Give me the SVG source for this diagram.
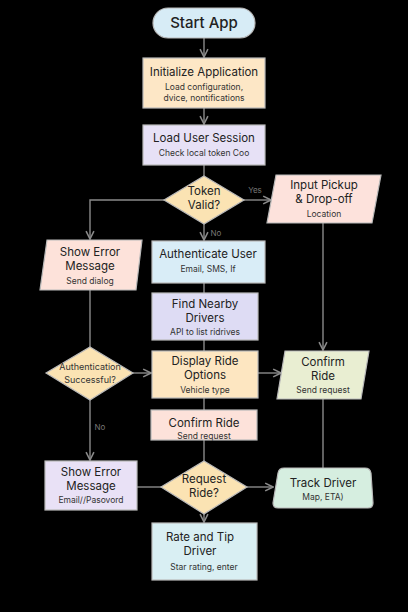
<svg xmlns="http://www.w3.org/2000/svg" width="408" height="612" viewBox="0 0 408 612">
<defs>
<marker id="ah" viewBox="0 0 10 10" refX="9" refY="5" markerWidth="7" markerHeight="7" orient="auto-start-reverse">
<path d="M1,1 L9,5 L1,9" fill="none" stroke="#8a8a8a" stroke-width="1.6"/>
</marker>
<style>
.t{font-family:Inter,"Noto Sans","DejaVu Sans",sans-serif;font-size:11.5px;fill:#222;text-anchor:middle}
.s{font-family:Inter,"Noto Sans","DejaVu Sans",sans-serif;font-size:8.5px;fill:#333;text-anchor:middle}
.l{font-family:Inter,"Noto Sans","DejaVu Sans",sans-serif;font-size:8px;fill:#777;text-anchor:middle}
.n{stroke:#b9b9b9;stroke-width:1.2}
.c{fill:none;stroke:#8a8a8a;stroke-width:1.4}
</style>
</defs>
<rect width="408" height="612" fill="#000"/>
<g id="connectors">
<path class="c" d="M204,38 V57" marker-end="url(#ah)"/>
<path class="c" d="M204,108 V124" marker-end="url(#ah)"/>
<path class="c" d="M204,165 V176"/>
<path class="c" d="M244,200 H271" marker-end="url(#ah)"/>
<path class="c" d="M164,200 H90 V239" marker-end="url(#ah)"/>
<path class="c" d="M204,224 V240" marker-end="url(#ah)"/>
<path class="c" d="M204,283 V293"/>
<path class="c" d="M204,340 V351"/>
<path class="c" d="M90,290 V347"/>
<path class="c" d="M133,373 H151" marker-end="url(#ah)"/>
<path class="c" d="M258,373 H281" marker-end="url(#ah)"/>
<path class="c" d="M323,223 V350" marker-end="url(#ah)"/>
<path class="c" d="M204,398 V410"/>
<path class="c" d="M90,400 V460" marker-end="url(#ah)"/>
<path class="c" d="M204,440 V462"/>
<path class="c" d="M137,487 H162"/>
<path class="c" d="M247,487 H273" marker-end="url(#ah)"/>
<path class="c" d="M323,399 V468"/>
<path class="c" d="M204,514 V522" marker-end="url(#ah)"/>
<text class="l" x="255" y="193">Yes</text>
<text class="l" x="216" y="236">No</text>
<text class="l" x="100" y="430">No</text>
</g>
<g id="start">
<rect class="n" x="153" y="8" width="102" height="30" rx="15" fill="#d7ecf6"/>
<text class="t" x="204" y="28" style="font-size:15px;font-weight:500">Start App</text>
</g>
<g id="init">
<rect class="n" x="143" y="58" width="122" height="50" fill="#fde7c6"/>
<text class="t" x="204" y="76">Initialize Application</text>
<text class="s" x="204" y="90">Load configuration,</text>
<text class="s" x="204" y="101">dvice, nontifications</text>
</g>
<g id="session">
<rect class="n" x="143" y="125" width="122" height="40" fill="#e7e1f6"/>
<text class="t" x="204" y="142">Load User Session</text>
<text class="s" x="204" y="156">Check local token Coo</text>
</g>
<g id="token">
<polygon class="n" points="204,176 244,200 204,224 164,200" fill="#fbe3b3"/>
<text class="t" x="204" y="195">Token</text>
<text class="t" x="204" y="209">Valid?</text>
</g>
<g id="pickup">
<polygon class="n" points="276,175 381,175 372,223 267,223" fill="#fde2dc"/>
<text class="t" x="324" y="189">Input Pickup</text>
<text class="t" x="324" y="203">&amp; Drop-off</text>
<text class="s" x="324" y="217">Location</text>
</g>
<g id="error1">
<polygon class="n" points="47,240 142,240 136,290 40,290" fill="#fde2da"/>
<text class="t" x="90" y="256">Show Error</text>
<text class="t" x="90" y="270">Message</text>
<text class="s" x="90" y="284">Send dialog</text>
</g>
<g id="auth">
<rect class="n" x="152" y="241" width="113" height="42" fill="#d9edf7"/>
<text class="t" x="208" y="258">Authenticate User</text>
<text class="s" x="208" y="272">Email, SMS, If</text>
</g>
<g id="find">
<rect class="n" x="152" y="293" width="106" height="47" fill="#dedcf4"/>
<text class="t" x="205" y="308">Find Nearby</text>
<text class="t" x="205" y="322">Drivers</text>
<text class="s" x="205" y="335">API to list ridrives</text>
</g>
<g id="display">
<rect class="n" x="152" y="351" width="106" height="47" fill="#fde6c1"/>
<text class="t" x="205" y="365">Display Ride</text>
<text class="t" x="205" y="379">Options</text>
<text class="s" x="205" y="393">Vehicle type</text>
</g>
<g id="authok">
<polygon class="n" points="90,347 133,373 90,400 46,373" fill="#fbe3b3"/>
<text class="s" x="90" y="370" style="font-size:9px">Authentication</text>
<text class="s" x="90" y="383" style="font-size:9px">Successful?</text>
</g>
<g id="confirm2">
<polygon class="n" points="285,351 369,351 361,399 277,399" fill="#e9eed2"/>
<text class="t" x="323" y="366">Confirm</text>
<text class="t" x="323" y="380">Ride</text>
<text class="s" x="323" y="393">Send request</text>
</g>
<g id="confirm1">
<rect class="n" x="151" y="410" width="106" height="30" fill="#fde2da"/>
<text class="t" x="204" y="427">Confirm Ride</text>
<text class="s" x="204" y="439">Send request</text>
</g>
<g id="error2">
<rect class="n" x="45" y="461" width="92" height="49" fill="#e9e1f6"/>
<text class="t" x="91" y="476">Show Error</text>
<text class="t" x="91" y="490">Message</text>
<text class="s" x="91" y="503">Email//Pasovord</text>
</g>
<g id="request">
<polygon class="n" points="204,461 247,487 204,514 161,487" fill="#fbe3b3"/>
<text class="t" x="204" y="483">Request</text>
<text class="t" x="204" y="497">Ride?</text>
</g>
<g id="track">
<path class="n" d="M284,468 H365 Q370,468 371,473 L373,503 Q373,508 368,508 H278 Q273,508 273,503 L278,473 Q279,468 284,468 Z" fill="#d6eee0"/>
<text class="t" x="323" y="487">Track Driver</text>
<text class="s" x="323" y="500">Map, ETA)</text>
</g>
<g id="rate">
<rect class="n" x="152" y="523" width="105" height="57" fill="#d9eff3"/>
<text class="t" x="200" y="541">Rate and Tip</text>
<text class="t" x="200" y="555">Driver</text>
<text class="s" x="204" y="570">Star rating, enter</text>
</g>
</svg>
